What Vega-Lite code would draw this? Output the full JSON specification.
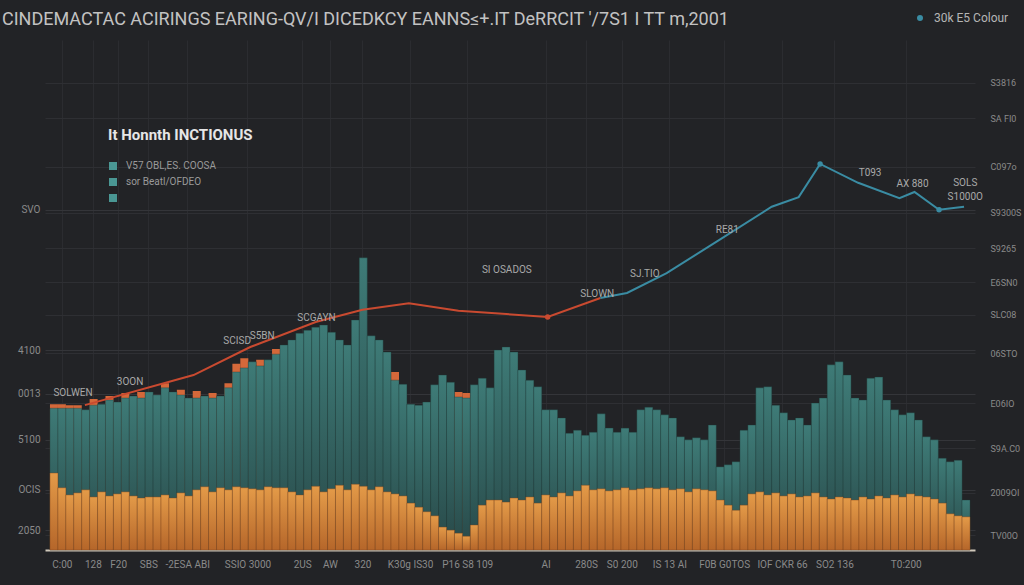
{
  "$schema": "https://vega.github.io/schema/vega-lite/v6.json",
  "width": 930,
  "height": 510,
  "autosize": {"type": "none"},
  "padding": {"left": 45, "top": 40, "right": 49, "bottom": 35},
  "background": "#222326",
  "config": {
    "view": {"stroke": null},
    "font": "Roboto",
    "axis": {"labelFont": "Roboto", "labelOverlap": false},
    "axisX": {"labelOverlap": false},
    "legend": {"labelFont": "Roboto", "titleFont": "Roboto"}
  },
  "title": {
    "text": "CINDEMACTAC ACIRINGS EARING-QV/I DICEDKCY EANNS≤+.IT DeRRCIT '/7S1 I TT m,2001",
    "anchor": "start",
    "frame": "group",
    "dx": -43,
    "offset": -17,
    "fontSize": 18,
    "fontWeight": "normal",
    "font": "Roboto",
    "color": "#c2c2c2"
  },
  "datasets": {
    "bars": [
      {"t": 0, "teal": 27.8, "front": 15.1, "peak": 28.6},
      {"t": 1, "teal": 27.8, "front": 12.2, "peak": 28.6},
      {"t": 2, "teal": 27.8, "front": 10.8, "peak": 28.4},
      {"t": 3, "teal": 27.8, "front": 11.2, "peak": 28.4},
      {"t": 4, "teal": 27.5, "front": 11.8, "peak": null},
      {"t": 5, "teal": 28.4, "front": 10.4, "peak": 29.6},
      {"t": 6, "teal": 28.6, "front": 11.4, "peak": null},
      {"t": 7, "teal": 29.4, "front": 10.6, "peak": 30.2},
      {"t": 8, "teal": 29.0, "front": 11.0, "peak": null},
      {"t": 9, "teal": 29.8, "front": 11.4, "peak": 30.8},
      {"t": 10, "teal": 30.2, "front": 10.6, "peak": null},
      {"t": 11, "teal": 29.8, "front": 10.2, "peak": 31.0},
      {"t": 12, "teal": 31.0, "front": 10.4, "peak": null},
      {"t": 13, "teal": 30.4, "front": 10.4, "peak": null},
      {"t": 14, "teal": 31.8, "front": 10.8, "peak": 32.7},
      {"t": 15, "teal": 31.0, "front": 10.2, "peak": null},
      {"t": 16, "teal": 30.4, "front": 11.2, "peak": 31.4},
      {"t": 17, "teal": 29.8, "front": 10.6, "peak": null},
      {"t": 18, "teal": 29.8, "front": 11.8, "peak": 31.2},
      {"t": 19, "teal": 30.2, "front": 12.4, "peak": null},
      {"t": 20, "teal": 29.8, "front": 11.4, "peak": 30.8},
      {"t": 21, "teal": 30.2, "front": 12.2, "peak": null},
      {"t": 22, "teal": 31.8, "front": 11.8, "peak": 32.7},
      {"t": 23, "teal": 34.9, "front": 12.4, "peak": 36.5},
      {"t": 24, "teal": 35.7, "front": 12.2, "peak": 37.6},
      {"t": 25, "teal": 36.9, "front": 12.0, "peak": null},
      {"t": 26, "teal": 36.1, "front": 11.8, "peak": 37.3},
      {"t": 27, "teal": 37.3, "front": 12.4, "peak": null},
      {"t": 28, "teal": 38.4, "front": 12.2, "peak": 39.4},
      {"t": 29, "teal": 40.2, "front": 12.2, "peak": null},
      {"t": 30, "teal": 41.2, "front": 11.4, "peak": null},
      {"t": 31, "teal": 42.5, "front": 10.8, "peak": null},
      {"t": 32, "teal": 43.1, "front": 11.8, "peak": null},
      {"t": 33, "teal": 43.7, "front": 12.5, "peak": null},
      {"t": 34, "teal": 44.1, "front": 11.4, "peak": null},
      {"t": 35, "teal": 42.7, "front": 12.0, "peak": null},
      {"t": 36, "teal": 41.2, "front": 12.7, "peak": null},
      {"t": 37, "teal": 40.2, "front": 11.8, "peak": null},
      {"t": 38, "teal": 45.1, "front": 12.9, "peak": null},
      {"t": 39, "teal": 57.3, "front": 12.5, "peak": null},
      {"t": 40, "teal": 42.0, "front": 11.8, "peak": null},
      {"t": 41, "teal": 41.2, "front": 12.4, "peak": null},
      {"t": 42, "teal": 38.8, "front": 11.4, "peak": null},
      {"t": 43, "teal": 33.3, "front": 11.0, "peak": 34.9},
      {"t": 44, "teal": 32.5, "front": 10.6, "peak": null},
      {"t": 45, "teal": 28.6, "front": 9.2, "peak": null},
      {"t": 46, "teal": 28.4, "front": 8.4, "peak": null},
      {"t": 47, "teal": 29.0, "front": 7.5, "peak": null},
      {"t": 48, "teal": 32.4, "front": 6.7, "peak": null},
      {"t": 49, "teal": 34.3, "front": 4.5, "peak": null},
      {"t": 50, "teal": 32.9, "front": 3.9, "peak": null},
      {"t": 51, "teal": 30.0, "front": 3.3, "peak": 31.0},
      {"t": 52, "teal": 29.8, "front": 2.7, "peak": 30.8},
      {"t": 53, "teal": 32.4, "front": 4.9, "peak": null},
      {"t": 54, "teal": 33.7, "front": 8.8, "peak": null},
      {"t": 55, "teal": 31.8, "front": 9.8, "peak": null},
      {"t": 56, "teal": 39.2, "front": 9.8, "peak": null},
      {"t": 57, "teal": 39.8, "front": 9.4, "peak": null},
      {"t": 58, "teal": 38.8, "front": 10.2, "peak": null},
      {"t": 59, "teal": 35.3, "front": 9.8, "peak": null},
      {"t": 60, "teal": 33.3, "front": 10.4, "peak": null},
      {"t": 61, "teal": 32.0, "front": 9.2, "peak": null},
      {"t": 62, "teal": 27.5, "front": 10.8, "peak": null},
      {"t": 63, "teal": 27.5, "front": 10.4, "peak": null},
      {"t": 64, "teal": 25.9, "front": 11.2, "peak": null},
      {"t": 65, "teal": 22.9, "front": 10.6, "peak": null},
      {"t": 66, "teal": 23.5, "front": 11.6, "peak": null},
      {"t": 67, "teal": 22.5, "front": 12.7, "peak": null},
      {"t": 68, "teal": 23.1, "front": 11.8, "peak": null},
      {"t": 69, "teal": 26.7, "front": 12.0, "peak": null},
      {"t": 70, "teal": 23.9, "front": 11.6, "peak": null},
      {"t": 71, "teal": 23.1, "front": 11.8, "peak": null},
      {"t": 72, "teal": 23.9, "front": 12.2, "peak": null},
      {"t": 73, "teal": 23.1, "front": 11.8, "peak": null},
      {"t": 74, "teal": 27.5, "front": 12.0, "peak": null},
      {"t": 75, "teal": 28.0, "front": 12.2, "peak": null},
      {"t": 76, "teal": 27.5, "front": 12.0, "peak": null},
      {"t": 77, "teal": 26.5, "front": 12.2, "peak": null},
      {"t": 78, "teal": 25.9, "front": 11.8, "peak": null},
      {"t": 79, "teal": 22.2, "front": 12.0, "peak": null},
      {"t": 80, "teal": 21.6, "front": 11.4, "peak": null},
      {"t": 81, "teal": 22.0, "front": 12.0, "peak": null},
      {"t": 82, "teal": 21.6, "front": 11.8, "peak": null},
      {"t": 83, "teal": 24.5, "front": 11.6, "peak": null},
      {"t": 84, "teal": 16.3, "front": 9.8, "peak": null},
      {"t": 85, "teal": 16.7, "front": 8.8, "peak": null},
      {"t": 86, "teal": 17.3, "front": 7.8, "peak": null},
      {"t": 87, "teal": 23.5, "front": 8.8, "peak": null},
      {"t": 88, "teal": 24.5, "front": 11.0, "peak": null},
      {"t": 89, "teal": 31.8, "front": 11.4, "peak": null},
      {"t": 90, "teal": 32.0, "front": 10.8, "peak": null},
      {"t": 91, "teal": 28.4, "front": 11.2, "peak": null},
      {"t": 92, "teal": 26.9, "front": 10.6, "peak": null},
      {"t": 93, "teal": 25.5, "front": 11.0, "peak": null},
      {"t": 94, "teal": 25.9, "front": 10.4, "peak": null},
      {"t": 95, "teal": 24.5, "front": 10.6, "peak": null},
      {"t": 96, "teal": 28.8, "front": 11.2, "peak": null},
      {"t": 97, "teal": 29.8, "front": 10.4, "peak": null},
      {"t": 98, "teal": 36.3, "front": 10.0, "peak": null},
      {"t": 99, "teal": 36.9, "front": 10.4, "peak": null},
      {"t": 100, "teal": 34.3, "front": 10.2, "peak": null},
      {"t": 101, "teal": 29.8, "front": 9.8, "peak": null},
      {"t": 102, "teal": 29.4, "front": 10.4, "peak": null},
      {"t": 103, "teal": 33.7, "front": 10.0, "peak": null},
      {"t": 104, "teal": 33.9, "front": 10.6, "peak": null},
      {"t": 105, "teal": 29.4, "front": 10.2, "peak": null},
      {"t": 106, "teal": 27.5, "front": 10.8, "peak": null},
      {"t": 107, "teal": 26.5, "front": 10.4, "peak": null},
      {"t": 108, "teal": 26.9, "front": 11.0, "peak": null},
      {"t": 109, "teal": 25.5, "front": 10.6, "peak": null},
      {"t": 110, "teal": 22.2, "front": 10.4, "peak": null},
      {"t": 111, "teal": 21.6, "front": 10.0, "peak": null},
      {"t": 112, "teal": 18.0, "front": 9.2, "peak": null},
      {"t": 113, "teal": 17.3, "front": 7.1, "peak": null},
      {"t": 114, "teal": 17.6, "front": 6.7, "peak": null},
      {"t": 115, "teal": 9.8, "front": 6.5, "peak": null}
    ],
    "trend": [
      {"series": "earnings", "t": 3.9, "v": 28.4},
      {"series": "earnings", "t": 17.6, "v": 34.3},
      {"series": "earnings", "t": 24.75, "v": 39.8},
      {"series": "earnings", "t": 33.0, "v": 44.7},
      {"series": "earnings", "t": 38.9, "v": 47.1},
      {"series": "earnings", "t": 44.75, "v": 48.4},
      {"series": "earnings", "t": 51.0, "v": 46.9},
      {"series": "earnings", "t": 62.25, "v": 45.7},
      {"series": "earnings", "t": 68.9, "v": 49.4},
      {"series": "colour", "t": 68.9, "v": 49.4},
      {"series": "colour", "t": 72.25, "v": 50.4},
      {"series": "colour", "t": 77.25, "v": 54.3},
      {"series": "colour", "t": 83.9, "v": 60.8},
      {"series": "colour", "t": 90.5, "v": 67.3},
      {"series": "colour", "t": 93.9, "v": 69.2},
      {"series": "colour", "t": 96.6, "v": 75.7},
      {"series": "colour", "t": 101.4, "v": 72.0},
      {"series": "colour", "t": 106.6, "v": 69.0},
      {"series": "colour", "t": 108.5, "v": 70.2},
      {"series": "colour", "t": 111.6, "v": 66.7},
      {"series": "colour", "t": 114.75, "v": 67.3}
    ],
    "dots": [
      {"series": "earnings", "t": 62.25, "v": 45.7},
      {"series": "colour", "t": 96.6, "v": 75.7},
      {"series": "colour", "t": 111.6, "v": 66.7}
    ],
    "notes": [
      {"t": 2.4, "v": 30.8, "label": "SOLWEN"},
      {"t": 9.6, "v": 32.9, "label": "3OON"},
      {"t": 23.1, "v": 41.0, "label": "SCISD"},
      {"t": 26.25, "v": 42.0, "label": "S5BN"},
      {"t": 33.1, "v": 45.5, "label": "SCGAYN"},
      {"t": 57.1, "v": 54.9, "label": "SI OSADOS"},
      {"t": 68.5, "v": 50.2, "label": "SLOWN"},
      {"t": 74.5, "v": 54.1, "label": "SJ.TIO"},
      {"t": 84.9, "v": 62.7, "label": "RE81"},
      {"t": 102.9, "v": 73.9, "label": "T093"},
      {"t": 108.25, "v": 71.8, "label": "AX 880"},
      {"t": 114.9, "v": 72.0, "label": "SOLS"},
      {"t": 114.9, "v": 69.2, "label": "S1000O"}
    ],
    "legendEntries": [
      {"entry": "V57 OBL,ES. COOSA"},
      {"entry": "sor Beatl/OFDEO"},
      {"entry": " "}
    ],
    "keyEntries": [
      {"key": "30k E5 Colour"}
    ]
  },
  "layer": [
    {
      "layer": [
        {
          "data": {"name": "bars"},
          "mark": {"type": "bar", "width": 8, "color": "#d4683a"},
          "encoding": {
            "x": {
              "field": "t", "type": "quantitative",
              "scale": {"domain": [-0.5, 115.5], "nice": false, "zero": false},
              "axis": {
                "title": null,
                "values": [1, 4.9, 8.1, 11.9, 16.8, 24.4, 31.3, 34.8, 38.9, 44.9, 52.1, 62, 67.1, 71.6, 77.6, 84.5, 91.8, 98.4, 107.4],
                "labelExpr": "['C:00','128','F20','SBS','-2ESA ABI','SSIO 3000','2US','AW','320','K30g IS30','P16 S8 109','AI','280S','S0 200','IS 13 AI','F0B G0TOS','IOF CKR 66','SO2 136','T0:200'][indexof([1,4.9,8.1,11.9,16.8,24.4,31.3,34.8,38.9,44.9,52.1,62,67.1,71.6,77.6,84.5,91.8,98.4,107.4], datum.value)]",
                "labelOverlap": false,
                "labelFlush": false,
                "labelColor": "#8a8a8a",
                "labelFontSize": 10,
                "labelPadding": 9,
                "ticks": false,
                "domainColor": "#cfc8ba",
                "domainWidth": 2,
                "grid": true,
                "gridColor": "#2b2c30",
                "gridWidth": 1
              }
            },
            "y": {
              "field": "peak", "type": "quantitative",
              "scale": {"domain": [0, 100], "nice": false},
              "axis": {
                "title": null,
                "values": [66.7, 39.2, 30.6, 21.6, 11.8, 3.9],
                "labelExpr": "['SVO','4100','0013','5100','OCIS','2050'][indexof([66.7,39.2,30.6,21.6,11.8,3.9], datum.value)]",
                "domain": false,
                "ticks": false,
                "labelColor": "#8a8a8a",
                "labelFontSize": 10,
                "labelPadding": 5,
                "grid": true,
                "gridColor": "#343539"
              }
            }
          }
        },
        {
          "data": {"name": "bars"},
          "mark": {
            "type": "bar", "width": 8,
            "fill": {"x1": 0, "y1": 0, "x2": 0, "y2": 1, "gradient": "linear", "stops": [{"offset": 0, "color": "#3e7b77"}, {"offset": 1, "color": "#284848"}]},
            "stroke": "#1f3a39", "strokeWidth": 0.6, "strokeOpacity": 0.6
          },
          "encoding": {
            "x": {"field": "t", "type": "quantitative"},
            "y": {"field": "teal", "type": "quantitative"}
          }
        },
        {
          "data": {"name": "bars"},
          "mark": {
            "type": "bar", "width": 8,
            "fill": {"x1": 0, "y1": 0, "x2": 0, "y2": 1, "gradient": "linear", "stops": [{"offset": 0, "color": "#e39a48"}, {"offset": 1, "color": "#b5662a"}]},
            "stroke": "#7e441c", "strokeWidth": 0.7, "strokeOpacity": 0.6
          },
          "encoding": {
            "x": {"field": "t", "type": "quantitative"},
            "y": {"field": "front", "type": "quantitative"}
          }
        },
        {
          "data": {"name": "trend"},
          "mark": {"type": "line", "strokeWidth": 2},
          "encoding": {
            "x": {"field": "t", "type": "quantitative"},
            "y": {"field": "v", "type": "quantitative"},
            "color": {"field": "series", "type": "nominal", "scale": {"domain": ["earnings", "colour"], "range": ["#c94a30", "#3a8ca3"]}, "legend": null}
          }
        },
        {
          "data": {"name": "dots"},
          "mark": {"type": "point", "filled": true, "size": 30, "opacity": 1},
          "encoding": {
            "x": {"field": "t", "type": "quantitative"},
            "y": {"field": "v", "type": "quantitative"},
            "color": {"field": "series", "type": "nominal", "legend": null}
          }
        },
        {
          "data": {"name": "legendEntries"},
          "transform": [{"filter": "false"}],
          "mark": {"type": "square", "opacity": 1},
          "encoding": {
            "fill": {
              "field": "entry", "type": "nominal",
              "scale": {"domain": ["V57 OBL,ES. COOSA", "sor Beatl/OFDEO", " "], "range": ["#4a9794", "#4a9794", "#4a9794"]},
              "legend": {
                "orient": "none", "legendX": 63, "legendY": 88,
                "title": "It Honnth INCTIONUS",
                "titleFontSize": 15, "titleColor": "#e6e6e6", "titleFontWeight": "bold",
                "titlePadding": 18,
                "labelColor": "#9a9a9a", "labelFontSize": 10,
                "symbolType": "square", "symbolSize": 64, "symbolOpacity": 1,
                "rowPadding": 6, "labelOffset": 8
              }
            }
          }
        },
        {
          "data": {"name": "keyEntries"},
          "transform": [{"filter": "false"}],
          "mark": {"type": "point", "filled": true, "opacity": 1, "color": "#3a8ca3"},
          "encoding": {
            "shape": {
              "field": "key", "type": "nominal",
              "scale": {"domain": ["30k E5 Colour"], "range": ["circle"]},
              "legend": {
                "orient": "none", "legendX": 869, "legendY": -28,
                "title": null,
                "labelColor": "#b5b5b5", "labelFontSize": 12,
                "symbolSize": 36, "symbolOpacity": 1, "symbolFillColor": "#3a8ca3", "symbolStrokeColor": "#3a8ca3",
                "labelOffset": 8
              }
            }
          }
        }
      ]
    },
    {
      "data": {"name": "notes"},
      "mark": {"type": "text", "fontSize": 10, "color": "#a9a9a9"},
      "encoding": {
        "x": {
          "field": "t", "type": "quantitative",
          "axis": {
            "title": null,
            "values": [1, 4.9, 8.1, 11.9, 16.8, 24.4, 31.3, 34.8, 38.9, 44.9, 52.1, 62, 67.1, 71.6, 77.6, 84.5, 91.8, 98.4, 107.4],
            "labelExpr": "['C:00','128','F20','SBS','-2ESA ABI','SSIO 3000','2US','AW','320','K30g IS30','P16 S8 109','AI','280S','S0 200','IS 13 AI','F0B G0TOS','IOF CKR 66','SO2 136','T0:200'][indexof([1,4.9,8.1,11.9,16.8,24.4,31.3,34.8,38.9,44.9,52.1,62,67.1,71.6,77.6,84.5,91.8,98.4,107.4], datum.value)]",
            "labelOverlap": false,
            "labelFlush": false,
            "labelColor": "#8a8a8a",
            "labelFontSize": 10,
            "labelPadding": 9,
            "ticks": false,
            "domainColor": "#cfc8ba",
            "domainWidth": 2,
            "grid": true,
            "gridColor": "#2b2c30",
            "gridWidth": 1
          }
        },
        "y": {
          "field": "v", "type": "quantitative",
          "scale": {"domain": [0, 100], "nice": false},
          "axis": {
            "orient": "right",
            "title": null,
            "values": [91.6, 84.7, 75.1, 66.1, 59.2, 52.5, 46.1, 38.6, 28.8, 20, 11.2, 2.9],
            "labelExpr": "['S3816','SA FI0','C097o','S9300S','S9265','E6SN0','SLC08','06STO','E06IO','S9A.C0','2009OI','TV00O'][indexof([91.6,84.7,75.1,66.1,59.2,52.5,46.1,38.6,28.8,20,11.2,2.9], datum.value)]",
            "domain": false,
            "ticks": false,
            "labelColor": "#8a8a8a",
            "labelFontSize": 9,
            "labelPadding": 15,
            "grid": true,
            "gridColor": "#2e2f33"
          }
        },
        "text": {"field": "label"}
      }
    }
  ],
  "resolve": {"scale": {"y": "independent"}}
}
